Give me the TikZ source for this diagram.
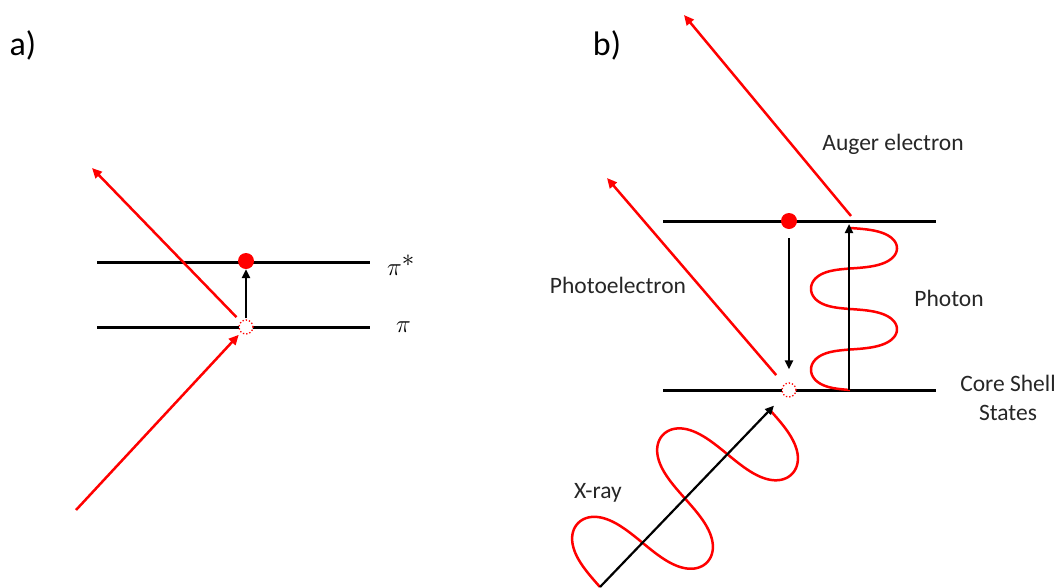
\documentclass[tikz,border=0pt]{standalone}
\usepackage{fontspec}
\setmainfont{Carlito}
\usetikzlibrary{arrows.meta,calc}
\begin{document}
\begin{tikzpicture}[x=1pt,y=-1pt,
  level/.style={line width=3pt,black},
  fdot/.style={circle,fill=red,inner sep=0pt,minimum size=16pt},
  odot/.style={circle,draw=red,dotted,line width=1.3pt,fill=white,inner sep=0pt,minimum size=14pt},
  barrow/.style={line width=2.2pt,black,-{Triangle[length=9pt,width=8pt]}},
  rarrow/.style={line width=2.5pt,red,-{Triangle[length=10pt,width=9pt]}},
  wave/.style={line width=2.5pt,red},
  lbl/.style={font=\fontsize{23.5}{28}\selectfont,text=black!85,inner sep=0pt},
  panel/.style={font=\fontsize{34}{40}\selectfont,inner sep=0pt},
  mathlbl/.style={inner sep=0pt,font=\fontsize{37}{42}\selectfont}]
\useasboundingbox (0,0) rectangle (1058,587);
% ---------- panel a
\node[panel] (la) at (23,45) {a)};
\coordinate (a1l) at (97,262); \coordinate (a1r) at (370,262);
\coordinate (a0l) at (97,327); \coordinate (a0r) at (370,327);
\draw[level] (a1l) -- (a1r);
\draw[level] (a0l) -- (a0r);
\node[mathlbl,anchor=west] (pistar) at (387,265) {$\pi^{*}$};
\node[mathlbl] (pi) at (403.5,327) {$\pi$};
\coordinate (ain) at (76,510);
\coordinate (aout) at (92,168);
\node[fdot] (ae) at (246,261) {};
\node[odot] (ah) at (246,327) {};
\draw[barrow,shorten <=1pt] (ah) -- (ae);
\draw[rarrow,shorten <=6pt] (ah) -- (aout);
\draw[rarrow,shorten >=3pt] (ain) -- (ah);
% ---------- panel b
\node[panel] (lb) at (607,45) {b)};
\coordinate (b1l) at (663,221); \coordinate (b1r) at (936,221);
\coordinate (b0l) at (663,390); \coordinate (b0r) at (936,390);
\draw[level] (b1l) -- (b1r);
\draw[level] (b0l) -- (b0r);
% photon wave
\draw[wave] plot[domain=0:720,samples=240,smooth]
  ({850-43*sin(\x)+4*abs(sin(\x))},{390-(0.225*\x-4.9*sin(2*\x))});
% X-ray wave
\draw[wave] plot[domain=0:720,samples=240,smooth]
  ({600+0.694*(0.34028*\x-7.4*sin(2*\x))-0.722*60*sin(\x)},
   {587-0.722*(0.34028*\x-7.4*sin(2*\x))-0.694*60*sin(\x)});
\node[fdot] (be) at (789,221) {};
\node[odot] (bh) at (789,390) {};
\coordinate (pb) at (849,390);
\coordinate (pt) at (849,224);
\coordinate (augS) at (851,216);
\coordinate (aug) at (684,15);
\coordinate (pe) at (607,178);
\coordinate (xs) at (600,587);
\draw[barrow,shorten <=9pt,shorten >=13pt] (be) -- (bh);
\draw[barrow] (pb) -- (pt);
\draw[rarrow] (augS) -- (aug);
\draw[rarrow,shorten <=12pt] (bh) -- (pe);
\draw[barrow,shorten >=14pt] (xs) -- (bh);
% labels
\node[lbl] (taug) at (893,144) {Auger electron};
\node[lbl] (tpe) at (618,285) {Photoelectron};
\node[lbl] (tph) at (949,298) {Photon};
\node[lbl,align=center] (tcs) at (1008,398) {Core Shell\\[1pt]States};
\node[lbl] (txr) at (598,493) {X-ray};
\end{tikzpicture}
\end{document}
